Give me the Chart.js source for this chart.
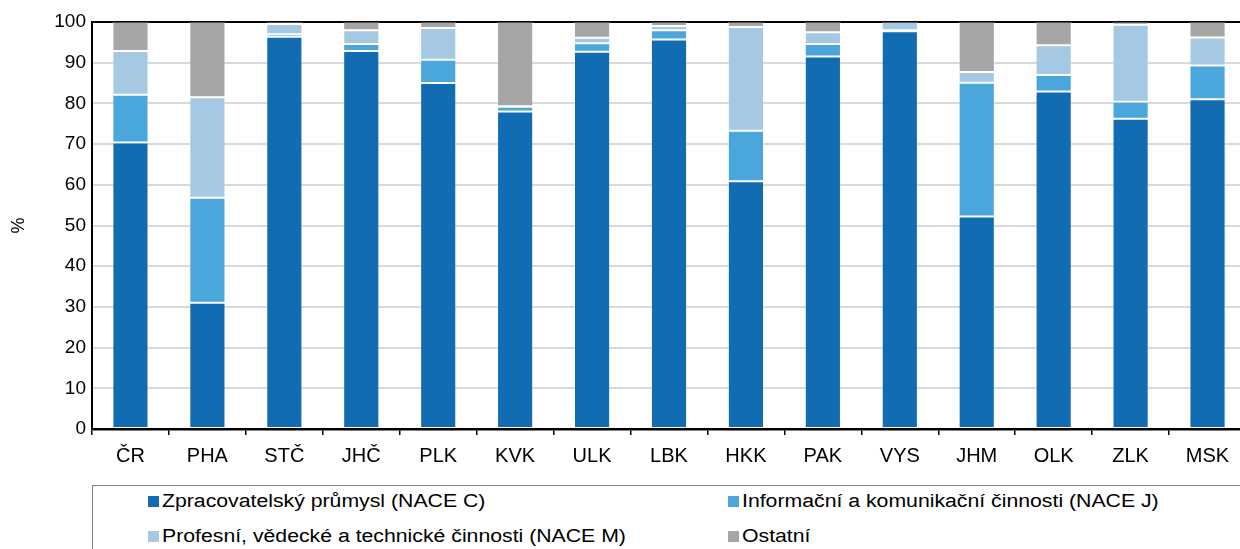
<!DOCTYPE html>
<html>
<head>
<meta charset="utf-8">
<script src="https://cdn.jsdelivr.net/npm/chart.js@4/dist/chart.umd.min.js"></script>
<style>
    html, body { margin: 0; padding: 0; background: #fff; overflow: hidden; }
    #wrap { position: relative; width: 1246px; height: 549px; }
    #chart { position: absolute; left: 0; top: 0; }
    #legend {
        position: absolute; left: 92px; top: 485px; width: 1160px; height: 80px;
        border: 1px solid #7f7f7f; box-sizing: border-box;
        font-family: "Liberation Sans", Arial, sans-serif; font-size: 18px; color: #000;
    }
    .item { position: absolute; white-space: nowrap; line-height: 20px; }
    .box { display: inline-block; width: 11px; height: 11px; margin-right: 3px; vertical-align: 0px; }
    .txt { display: inline-block; transform: scaleX(1.18); transform-origin: left center; }
</style>
</head>
<body>
<div id="wrap">
    <canvas id="chart" width="1246" height="475"></canvas>
    <div id="legend"></div>
</div>
<script>
    const categories = ['ČR', 'PHA', 'STČ', 'JHČ', 'PLK', 'KVK', 'ULK', 'LBK', 'HKK', 'PAK', 'VYS', 'JHM', 'OLK', 'ZLK', 'MSK'];
    const seriesNames = ['Zpracovatelský průmysl (NACE C)', 'Informační a komunikační činnosti (NACE J)', 'Profesní, vědecké a technické činnosti (NACE M)', 'Ostatní'];
    const seriesColors = ['#126cb2', '#4ba6db', '#a6c9e3', '#a6a6a6'];

    const naceC = [70.4, 31.0, 96.4, 92.9, 85.0, 78.0, 92.7, 95.7, 60.9, 91.5, 97.7, 52.2, 82.9, 76.2, 81.0];
    const naceJ = [11.7, 25.8, 0.6, 1.7, 5.7, 1.2, 2.1, 2.3, 12.4, 3.1, 0.3, 32.9, 4.1, 4.2, 8.3];
    const naceM = [10.8, 24.7, 2.5, 3.4, 7.8, 0.1, 1.3, 1.0, 25.5, 2.9, 2.0, 2.6, 7.3, 18.9, 6.9];
    const ostatni = [7.1, 18.5, 0.5, 2.0, 1.5, 20.7, 3.9, 1.0, 1.2, 2.5, 0.0, 12.3, 5.7, 0.7, 3.8];

    const yTicks = [0, 10, 20, 30, 40, 50, 60, 70, 80, 90, 100];

    const font = { family: '"Liberation Sans", Arial, sans-serif', size: 20 };

    const allData = [naceC, naceJ, naceM, ostatni];
    const datasets = allData.map(function(d, i) {
        return {
            label: seriesNames[i],
            data: d,
            backgroundColor: seriesColors[i],
            borderColor: 'rgba(255,255,255,0.3)',
            borderWidth: 1,
            borderSkipped: false,
            barPercentage: 0.47,
            categoryPercentage: 1.0
        };
    });

    // legenda jako HTML, dva sloupce
    const legendPos = [[55, 5], [635, 5], [55, 40], [635, 40]];
    const legendEl = document.getElementById('legend');
    seriesNames.forEach(function(name, i) {
        const div = document.createElement('div');
        div.className = 'item';
        div.style.left = legendPos[i][0] + 'px';
        div.style.top = legendPos[i][1] + 'px';
        div.innerHTML = '<span class="box" style="background:' + seriesColors[i] + '"></span><span class="txt">' + name + '</span>';
        legendEl.appendChild(div);
    });

    new Chart(document.getElementById('chart').getContext('2d'), {
        type: 'bar',
        data: { labels: categories, datasets: datasets },
        options: {
            responsive: false,
            animation: false,
            layout: { padding: { top: 22, right: 0, left: 8, bottom: 0 } },
            plugins: { legend: { display: false }, tooltip: { enabled: false } },
            scales: {
                x: {
                    stacked: true,
                    grid: { display: true, offset: true, drawOnChartArea: false, color: '#000', tickLength: 6, lineWidth: 1.5 },
                    border: { display: true, color: '#000', width: 2.5 },
                    ticks: { color: '#000', font: font, padding: 9, maxRotation: 0 },
                    afterFit: function(scale) { scale.height = 46; }
                },
                y: {
                    stacked: true,
                    min: 0,
                    max: 100,
                    afterBuildTicks: function(scale) { scale.ticks = yTicks.map(v => ({ value: v })); },
                    grid: {
                        color: function(ctx) { return ctx.tick && ctx.tick.value === 100 ? '#000' : '#d9d9d9'; },
                        lineWidth: 2,
                        tickLength: 0
                    },
                    border: { display: true, color: '#000', width: 2 },
                    ticks: { color: '#000', font: { family: font.family, size: 19 }, padding: 6 },
                    title: { display: true, text: '%', color: '#000', font: { family: font.family, size: 18 }, padding: 0 },
                    afterFit: function(scale) { scale.width = 84; }
                }
            }
        }
    });
</script>
</body>
</html>
